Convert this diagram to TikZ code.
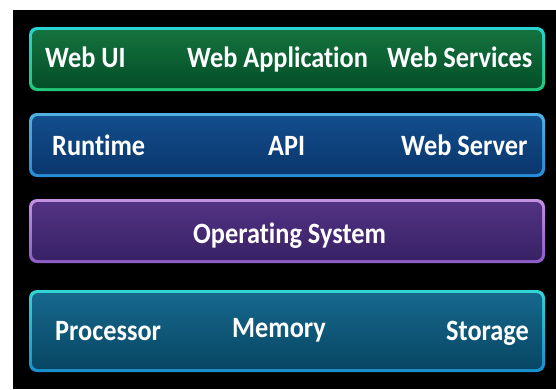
\documentclass[tikz,border=0pt]{standalone}
\usepackage{fontspec}
\setmainfont[Ligatures={NoCommon}]{Carlito}
\newcommand{\tallt}[1]{\scalebox{1}[1.12]{#1}}
\begin{document}
\begin{tikzpicture}[x=1pt,y=-1pt,
  lbl/.style={text=white, font=\bfseries\fontsize{26.3}{26}\selectfont, inner sep=0pt, anchor=base west},
  rim/.style={rounded corners=8pt},
  core/.style={rounded corners=6pt}]
\useasboundingbox (0,0) rectangle (556,389);
\fill[white] (0,0) rectangle (556,389);
\fill[black] (13,10) rectangle (556,389);
% bar 1 green
\shade[rim, top color={rgb,255:red,40;green,212;blue,212}, bottom color={rgb,255:red,34;green,200;blue,120}] (29,27) rectangle (545,91);
\shade[core, top color={rgb,255:red,20;green,115;blue,62}, bottom color={rgb,255:red,4;green,78;blue,40}] (32,30) rectangle (542,88);
% bar 2 blue
\shade[rim, top color={rgb,255:red,80;green,178;blue,226}, bottom color={rgb,255:red,38;green,140;blue,214}] (29,113) rectangle (545,177);
\shade[core, top color={rgb,255:red,18;green,78;blue,140}, bottom color={rgb,255:red,10;green,54;blue,108}] (32,116) rectangle (542,174);
% bar 3 purple
\shade[rim, top color={rgb,255:red,196;green,146;blue,226}, bottom color={rgb,255:red,140;green,92;blue,200}] (29,199) rectangle (545,263);
\shade[core, top color={rgb,255:red,82;green,50;blue,132}, bottom color={rgb,255:red,56;green,34;blue,100}] (32,202) rectangle (542,260);
% bar 4 teal
\shade[rim, top color={rgb,255:red,52;green,212;blue,212}, bottom color={rgb,255:red,26;green,143;blue,208}] (29,290) rectangle (545,372);
\shade[core, top color={rgb,255:red,22;green,104;blue,140}, bottom color={rgb,255:red,8;green,70;blue,100}] (32,293) rectangle (542,369);
% labels
\node[lbl] (webui) at (45,67) {\tallt{Web UI}};
\node[lbl] (webapp) at (187,67) {\tallt{Web Application}};
\node[lbl] (websvc) at (387,67) {\tallt{Web Services}};
\node[lbl] (runtime) at (52,155) {\tallt{Runtime}};
\node[lbl] (api) at (268,155) {\tallt{API}};
\node[lbl] (websrv) at (401,155) {\tallt{Web Server}};
\node[lbl] (os) at (193,243) {\tallt{Operating System}};
\node[lbl] (proc) at (55,340) {\tallt{Processor}};
\node[lbl] (mem) at (232,337) {\tallt{Memory}};
\node[lbl] (stor) at (446,340) {\tallt{Storage}};
\end{tikzpicture}
\end{document}
